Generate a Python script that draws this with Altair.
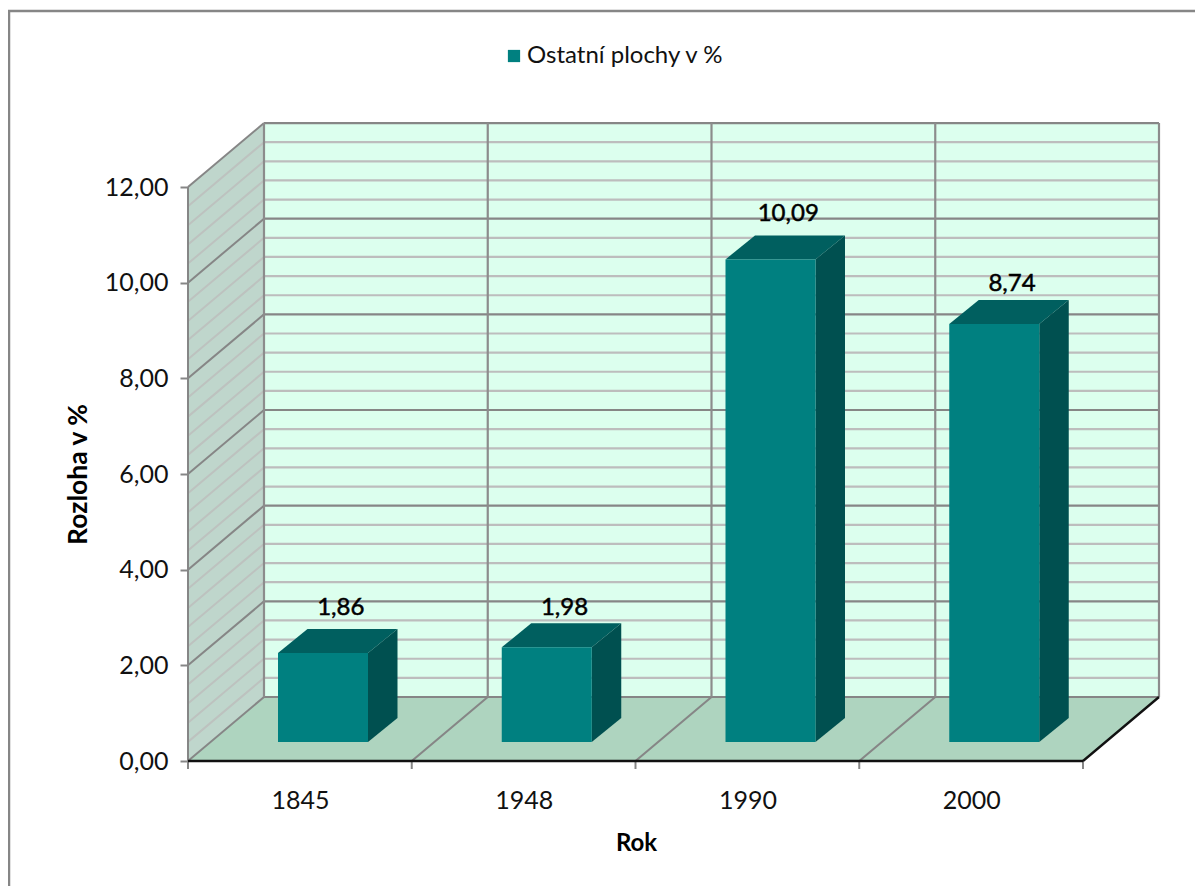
import altair as alt
import pandas as pd

YEARS = ["1845", "1948", "1990", "2000"]
VALUES = [1.86, 1.98, 10.09, 8.74]
VALUE_LABELS = ["1,86", "1,98", "10,09", "8,74"]
LABEL_LIFT = [0.43, 0.33, 0.45, 0.33]
SERIES = "Ostatní plochy v %"
Y_TICKS = [0, 2, 4, 6, 8, 10, 12]
MINOR_STEP = [round(i * 0.4, 1) for i in range(31)]

PX_X, PX_Y = 223.75, 47.83
W, H = 972, 638
DX, DY = 76 / PX_X, 64 / PX_Y
BAR_X, BAR_W = 90 / PX_X, 90 / PX_X
BAR_FY = 19 / PX_Y
BAR_DX, BAR_DY = 29.5 / PX_X, 24 / PX_Y
N = len(YEARS)
TOP = 12

xs = alt.Scale(domain=[0, W / PX_X], nice=False, zero=False)
ys = alt.Scale(domain=[0, H / PX_Y], nice=False, zero=False)

y_axis = alt.Axis(
    values=Y_TICKS, labelExpr="replace(format(datum.value, '.2f'), '.', ',')",
    domain=False, grid=False, tickColor="#868686", tickWidth=2, tickSize=8,
    labelFont="Lato", labelFontSize=25, labelColor="#111111", labelPadding=12,
    title="Rozloha v %", titleFont="Lato", titleFontSize=26.5, titleFontWeight="bold",
    titleColor="#000000", titleX=-110, titleY=351, titleAngle=270, titleAlign="center",
    titleBaseline="middle")
x_axis = alt.Axis(
    values=[i + 0.5 for i in range(N)],
    labelExpr="[" + ",".join(f"'{y}'" for y in YEARS) + "][floor(datum.value)]",
    domain=False, grid=False, ticks=False, labelAngle=0,
    labelFont="Lato", labelFontSize=25, labelColor="#111111", labelPadding=27,
    title="Rok", titleFont="Lato", titleFontSize=24, titleFontWeight="bold",
    titleColor="#000000", titleX=448, titleY=82, titleAlign="center", titleBaseline="middle")

X = alt.X("x:Q", scale=xs, axis=x_axis)
Y = alt.Y("y:Q", scale=ys, axis=y_axis)
X2 = alt.X2("x2")
Y2 = alt.Y2("y2")


def areas(df, color):
    return alt.Chart(pd.DataFrame(df)).mark_area(color=color).encode(
        x=X, y=Y, y2=Y2, detail="g:N")


def flat_par(g, x0, x1, y, dx, dy):
    """Horizontal parallelogram: lower edge x0..x1 at y, shifted back by dx, dy."""
    return [
        dict(g=g, x=x0, y=y, y2=y),
        dict(g=g, x=x0 + dx, y=y, y2=y + dy),
        dict(g=g, x=x1, y=y, y2=y + dy),
        dict(g=g, x=x1 + dx, y=y + dy, y2=y + dy),
    ]


def side_par(g, x, y0, y1, dx, dy):
    return [dict(g=g, x=x, y=y0, y2=y1), dict(g=g, x=x + dx, y=y0 + dy, y2=y1 + dy)]


def rules(segs, color, width):
    return alt.Chart(pd.DataFrame(segs, columns=["x", "y", "x2", "y2"])).mark_rule(
        color=color, strokeWidth=width).encode(x=X, y=Y, x2=X2, y2=Y2)


frame = alt.Chart(pd.DataFrame({"a": [0]})).mark_rect(
    fillOpacity=0, stroke="#868686", strokeWidth=2.5
).encode(x=alt.value(-179), x2=alt.value(1300), y=alt.value(-112), y2=alt.value(1000))

wall = alt.Chart(pd.DataFrame([dict(x=DX, x2=N + DX, y=DY, y2=TOP + DY)])).mark_rect(
    color="#DCFFEE").encode(x=X, x2=X2, y=Y, y2=Y2)

side_wall = areas(side_par("s", 0, 0, TOP, DX, DY), "#BFD6CC")
floor = areas(flat_par("f", 0, N, 0, DX, DY), "#AED4BF")

is_major = lambda v: abs(v / 2 - round(v / 2)) < 1e-6
minor_levels = [v for v in MINOR_STEP if not is_major(v)]
major_levels = [v for v in MINOR_STEP if is_major(v)]

minor_side = rules([(0, v, DX, v + DY) for v in minor_levels], "#BDC2BF", 2)
minor_wall = rules([(DX, v + DY, N + DX, v + DY) for v in minor_levels], "#BDBDBD", 2.2)
major_side = rules([(0, v, DX, v + DY) for v in major_levels], "#868686", 2)
major_wall = rules([(DX, v + DY, N + DX, v + DY) for v in major_levels], "#868686", 2.2)
verticals = rules([(i + DX, DY, i + DX, TOP + DY) for i in range(N + 1)], "#8C8C8C", 2.2)
floor_lines = rules([(i, 0, i + DX, DY) for i in range(1, N)], "#868686", 2)
left_edge = rules([(0, 0, 0, TOP)], "#868686", 2)
x_ticks = rules([(i, 0, i, -8 / PX_Y) for i in range(N + 1)], "#868686", 2)
base = rules([(0, 0, N, 0), (N, 0, N + DX, DY)], "#111111", 2.4)

bar_x0 = [i + BAR_X for i in range(N)]
top_rows, side_rows, front_rows, label_rows = [], [], [], []
for i, v in enumerate(VALUES):
    x0, x1 = bar_x0[i], bar_x0[i] + BAR_W
    top_rows += flat_par(i, x0, x1, v + BAR_FY, BAR_DX, BAR_DY)
    side_rows += side_par(i, x1, BAR_FY, v + BAR_FY, BAR_DX, BAR_DY)
    front_rows.append(dict(x=x0, x2=x1, y=BAR_FY, y2=v + BAR_FY, s=SERIES))
    label_rows.append(dict(x=(x0 + x1 + BAR_DX) / 2 + 3 / PX_X,
                           y=v + BAR_FY + BAR_DY + LABEL_LIFT[i], t=VALUE_LABELS[i]))

tops = areas(top_rows, "#005F5F")
sides = areas(side_rows, "#005050")
fronts = alt.Chart(pd.DataFrame(front_rows)).mark_rect().encode(
    x=X, x2=X2, y=Y, y2=Y2,
    color=alt.Color("s:N", scale=alt.Scale(domain=[SERIES], range=["#008080"]),
                    legend=alt.Legend(
                        orient="none", legendX=314, legendY=-79, title=None,
                        symbolType="square", symbolSize=150, symbolStrokeWidth=0,
                        labelFont="Lato", labelFontSize=24, labelColor="#111111",
                        labelOffset=1, labelLimit=400, padding=0)))
labels = alt.Chart(pd.DataFrame(label_rows)).mark_text(
    font="Lato", fontSize=24, color="#000000", stroke="#000000", strokeWidth=0.5,
    baseline="middle"
).encode(x=X, y=Y, text="t:N")

chart = alt.layer(
    frame, wall, side_wall, floor, minor_side, minor_wall, major_side, major_wall,
    verticals, floor_lines, left_edge, x_ticks, base, tops, sides, fronts, labels
).properties(
    width=W, height=H,
    padding={"left": 180, "top": 115, "right": 35, "bottom": 125},
    autosize=alt.AutoSizeParams(type="none"),
    background="#FFFFFF",
).configure_view(stroke=None)

chart.save("out.html", embed_options={"renderer": "svg", "actions": False})
